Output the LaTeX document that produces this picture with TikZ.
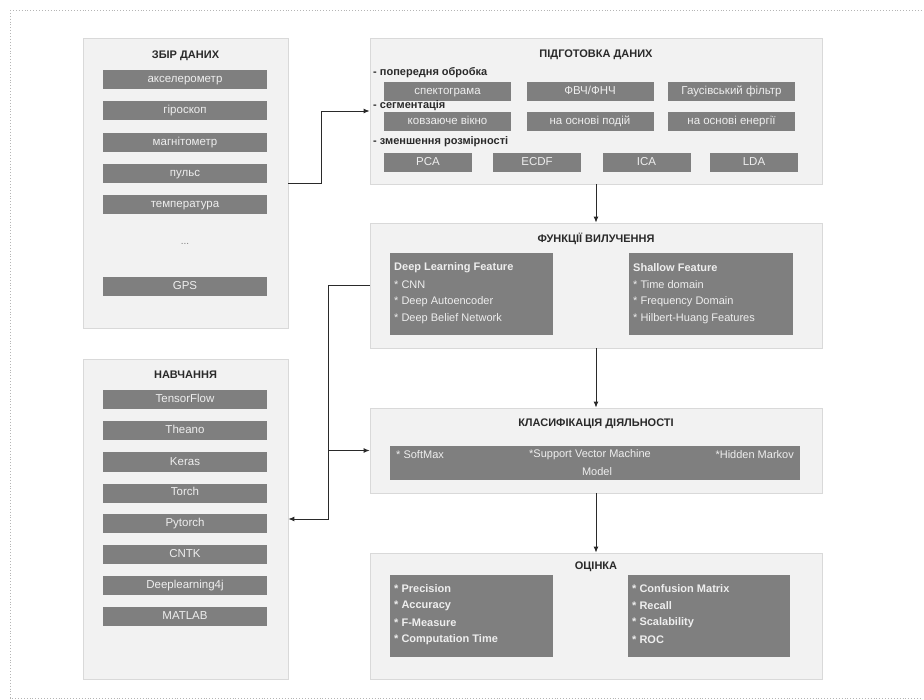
\documentclass[tikz,border=0pt]{standalone}
\usepackage{fontspec}
\setmainfont{Liberation Sans}
\usetikzlibrary{arrows.meta,shadows}
\definecolor{panelfill}{HTML}{F2F2F2}
\definecolor{panelline}{HTML}{D9D9D9}
\definecolor{barfill}{HTML}{7F7F7F}
\definecolor{bartext}{HTML}{EEEEEE}
\definecolor{ink}{HTML}{2A2A2A}
\definecolor{frameline}{HTML}{B5B5B5}
\begin{document}
\begin{tikzpicture}[x=1pt,y=-1pt,
  panel/.style={draw=panelline, fill=panelfill, line width=0.8pt, inner sep=0pt,
    drop shadow={shadow xshift=1.2pt, shadow yshift=-1.2pt, fill=black!12}},
  ptitle/.style={font=\bfseries\fontsize{11}{13}\selectfont, text=ink, inner sep=0pt},
  plabel/.style={font=\bfseries\fontsize{11}{13}\selectfont, text=ink, inner sep=0pt, anchor=west},
  barbox/.style={fill=barfill, draw=none, inner sep=0pt, text=bartext,
    font=\fontsize{11.5}{13}\selectfont, minimum height=19pt, text height=8.5pt, text depth=2.5pt},
  darkbox/.style={fill=barfill, draw=none, inner sep=0pt},
  listtext/.style={text=bartext, font=\fontsize{11}{13}\selectfont, inner sep=0pt, anchor=west},
  listbold/.style={listtext, font=\bfseries\fontsize{11}{13}\selectfont},
  conn/.style={draw=ink, line width=0.9pt},
  arr/.style={conn, -{Latex[length=6pt,width=5pt]}}
]
\useasboundingbox (0,0) rectangle (924,700);
% page frame
\draw[frameline, dotted, line width=0.9pt] (10,10) -- (921,10);
\draw[frameline, dotted, line width=0.9pt] (10,10) -- (10,698) -- (921,698);

% ---------- left panel 1 ----------
\node[panel, minimum width=205pt, minimum height=290pt] (P1) at (185.5,183) {};
\node[ptitle] (P1t) at (185.5,56) {ЗБІР ДАНИХ};
\node[barbox, minimum width=164pt] (s1) at (185,80) {акселерометр};
\node[barbox, minimum width=164pt] (s2) at (185,111) {гіроскоп};
\node[barbox, minimum width=164pt] (s3) at (185,143) {магнітометр};
\node[barbox, minimum width=164pt] (s4) at (185,174) {пульс};
\node[barbox, minimum width=164pt] (s5) at (185,205) {температура};
\node[text=gray, font=\fontsize{10}{12}\selectfont, inner sep=0pt] (sdots) at (185,244) {...};
\node[barbox, minimum width=164pt] (s6) at (185,287) {GPS};

% ---------- left panel 2 ----------
\node[panel, minimum width=205pt, minimum height=320pt] (P2) at (185.5,519) {};
\node[ptitle] (P2t) at (185.5,375) {НАВЧАННЯ};
\node[barbox, minimum width=164pt] (t1) at (185,400) {TensorFlow};
\node[barbox, minimum width=164pt] (t2) at (185,431) {Theano};
\node[barbox, minimum width=164pt] (t3) at (185,462) {Keras};
\node[barbox, minimum width=164pt] (t4) at (185,493) {Torch};
\node[barbox, minimum width=164pt] (t5) at (185,523) {Pytorch};
\node[barbox, minimum width=164pt] (t6) at (185,554) {CNTK};
\node[barbox, minimum width=164pt] (t7) at (185,585) {Deeplearning4j};
\node[barbox, minimum width=164pt] (t8) at (185,616) {MATLAB};

% ---------- panel A ----------
\node[panel, minimum width=452pt, minimum height=146pt] (A) at (596,111) {};
\node[ptitle] (At) at (596,55) {ПІДГОТОВКА ДАНИХ};
\node[plabel] (Al1) at (373,73) {- попередня обробка};
\node[barbox, minimum width=127pt] (a1) at (447.5,91.5) {спектограма};
\node[barbox, minimum width=127pt] (a2) at (590,91.5) {ФВЧ/ФНЧ};
\node[barbox, minimum width=127pt] (a3) at (731.5,91.5) {Гаусівський фільтр};
\node[plabel] (Al2) at (373,106) {- сегментація};
\node[barbox, minimum width=127pt] (a4) at (447.5,122) {ковзаюче вікно};
\node[barbox, minimum width=127pt] (a5) at (590,122) {на основі подій};
\node[barbox, minimum width=127pt] (a6) at (731.5,122) {на основі енергії};
\node[plabel] (Al3) at (373,142) {- зменшення розмірності};
\node[barbox, minimum width=88pt] (a7) at (428,162.5) {PCA};
\node[barbox, minimum width=88pt] (a8) at (537,162.5) {ECDF};
\node[barbox, minimum width=88pt] (a9) at (646.5,162.5) {ICA};
\node[barbox, minimum width=88pt] (a10) at (754,162.5) {LDA};

% ---------- panel B ----------
\node[panel, minimum width=452pt, minimum height=125pt] (B) at (596,285.5) {};
\node[ptitle] (Bt) at (596,239) {ФУНКЦІЇ ВИЛУЧЕННЯ};
\node[darkbox, minimum width=163pt, minimum height=82pt] (B1) at (471.5,294) {};
\node[darkbox, minimum width=164pt, minimum height=82pt] (B2) at (711,294) {};
\node[listbold] (b11) at (394,268) {Deep Learning Feature};
\node[listtext] (b12) at (394,285) {* CNN};
\node[listtext] (b13) at (394,302) {* Deep Autoencoder};
\node[listtext] (b14) at (394,319) {* Deep Belief Network};
\node[listbold] (b21) at (633,268) {Shallow Feature};
\node[listtext] (b22) at (633,285) {* Time domain};
\node[listtext] (b23) at (633,302) {* Frequency Domain};
\node[listtext] (b24) at (633,319) {* Hilbert-Huang Features};

% ---------- panel C ----------
\node[panel, minimum width=452pt, minimum height=85pt] (C) at (596,450.5) {};
\node[ptitle] (Ct) at (596,424) {КЛАСИФІКАЦІЯ ДІЯЛЬНОСТІ};
\node[darkbox, minimum width=410pt, minimum height=34pt] (C1) at (595,463) {};
\node[listtext] (c1) at (396,455) {* SoftMax};
\node[listtext, anchor=center] (c2) at (590,455) {*Support Vector Machine};
\node[listtext, anchor=center] (c2b) at (597,472) {Model};
\node[listtext, anchor=east] (c3) at (794,455) {*Hidden Markov};

% ---------- panel D ----------
\node[panel, minimum width=452pt, minimum height=126pt] (D) at (596,616) {};
\node[ptitle] (Dt) at (596,567) {ОЦІНКА};
\node[darkbox, minimum width=163pt, minimum height=82pt] (D1) at (471.5,616) {};
\node[darkbox, minimum width=162pt, minimum height=82pt] (D2) at (709,616) {};
\node[listbold] (d11) at (394,589) {* Precision};
\node[listbold] (d12) at (394,606) {* Accuracy};
\node[listbold] (d13) at (394,623) {* F-Measure};
\node[listbold] (d14) at (394,640) {* Computation Time};
\node[listbold] (d21) at (632,589) {* Confusion Matrix};
\node[listbold] (d22) at (632,606) {* Recall};
\node[listbold] (d23) at (632,623) {* Scalability};
\node[listbold] (d24) at (632,640) {* ROC};

% ---------- connectors ----------
\draw[arr] (P1.east) -- ++(33,0) |- (A.west);
\draw[arr] (A.south) -- (B.north);
\draw[arr] (B.south) -- (C.north);
\draw[arr] (C.south) -- (D.north);
\draw[arr] (B.west) -- ++(-41,0) coordinate (j1) |- (P2.east);
\draw[arr] (j1 |- C.west) -- (C.west);
\end{tikzpicture}
\end{document}
